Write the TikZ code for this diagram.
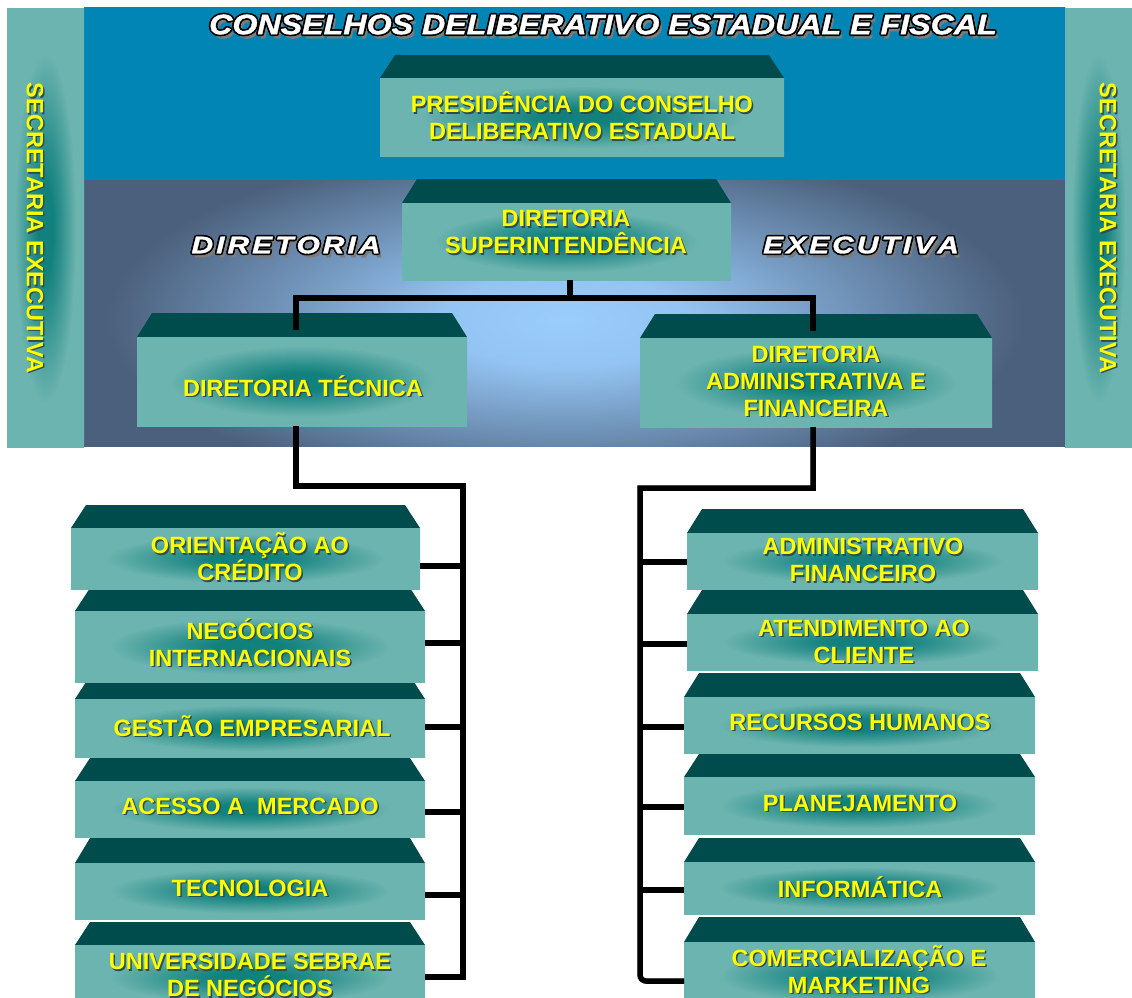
\documentclass[tikz,border=0pt]{standalone}
\usepackage{fontspec}
\setmainfont{Liberation Sans}
\newfontfamily\headfont{Liberation Sans}[FakeStretch=1.15, FakeBold=1.3]
\newfontfamily\wideheadfont{Liberation Sans}[FakeStretch=1.25, FakeBold=1.3]
\usetikzlibrary{calc}

% palette
\definecolor{sea}{HTML}{0095CA}
\definecolor{seaedge}{HTML}{0085B5}
\definecolor{skyglow}{HTML}{9ACCFC}
\definecolor{slate}{HTML}{4B607C}
\definecolor{lidteal}{HTML}{004C4C}
\definecolor{faceedge}{HTML}{6CB4AF}
\definecolor{facecore}{HTML}{12817E}
\definecolor{labelyellow}{HTML}{FFFF00}
\definecolor{labelshade}{HTML}{2E4E4E}
\definecolor{wireshade}{HTML}{6A6A6A}
\definecolor{titleshade}{HTML}{7C7C7C}

% glow used on the front faces and the side panels
\pgfdeclareradialshading{faceglow}{\pgfpoint{0bp}{0bp}}{%
  color(0bp)=(facecore); color(5bp)=(facecore); color(10bp)=(facecore!70!faceedge);
  color(20bp)=(faceedge); color(50bp)=(faceedge)}
% light spot behind the executive board
\pgfdeclareradialshading{boardglow}{\pgfpoint{0bp}{0bp}}{%
  color(0bp)=(skyglow); color(6bp)=(skyglow!92!slate); color(22bp)=(slate); color(50bp)=(slate)}

% letters set apart by a fixed kern
\makeatletter
\newcommand\spreadword[2]{\@tfor\spreadletter:=#2\do{\spreadletter\kern#1}\unkern}
\makeatother

% a unit: dark lid on top of a glowing front face
% #1 name, #2 left, #3 right, #4 lid top, #5 face top, #6 face bottom
\newcommand\tealbox[6]{%
  \fill[lid] (#2,#5) -- (#2+15,#4) -- (#3-15,#4) -- (#3,#5) -- cycle;
  \node[face, minimum width={(#3)-(#2)}, minimum height={(#6)-(#5)}]
    (#1) at ({((#2)+(#3))/2},{((#5)+(#6))/2}) {};}

% yellow caption with a dark drop shadow
\newcommand\yellowlabel[5][]{%
  \node[boxtextshadow,#1] (#2-shade) at ({#3+1.5},{#4+1.5}) {#5};
  \node[boxtext,#1] (#2) at (#3,#4) {#5};}

% white lettering with a black rim and a grey drop shadow
% #1 name, #2 x, #3 y, #4 font, #5 text
\newcommand\rimmed[5]{%
  \node[heading,font=#4,text=titleshade] (#1-drop) at ({#2+3},{#3+4}) {#5};
  \foreach \dx/\dy [count=\k] in {-1.7/0,1.7/0,0/1.7,0/-1.7,-1.2/1.2,1.2/1.2,-1.2/-1.2,1.2/-1.2}
    {\node[heading,font=#4,text=black] (#1-rim\k) at ({#2+\dx},{#3+\dy}) {#5};}
  \node[heading,font=#4,text=white] (#1) at (#2,#3) {#5};}

% all connectors, drawn once as shadow and once as ink
\newcommand\wiring[1]{%
  \draw[#1] (hub |- sup.south) -- (hub);
  \draw[#1] (tecjoin) -- (tecdrop) -- (admdrop) -- (admjoin);
  \draw[#1] (tecdrop |- tec.south) -- (lbelbow) -- (lbtop) -- (lbend);
  \foreach \b/\c in {ori/lb1, neg/lb2, ges/lb3, acc/lb4, tecn/lb5, uni/lb6}
    {\draw[#1] (\c -| \b.east) -- (\c);}
  \draw[#1] (admdrop |- adm.south) -- (rbelbow) -- (rbtop) [rounded corners=6pt] -- (rbend) -- (rbend -| com.west);
  \foreach \b/\c in {admf/rb1, ate/rb2, rh/rb3, plan/rb4, inf/rb5}
    {\draw[#1] (\c) -- (\c -| \b.west);}
}

\begin{document}
\begin{tikzpicture}[x=1pt, y=-1pt,
  lid/.style={fill=lidteal},
  face/.style={shade, shading=faceglow, inner sep=0pt, outer sep=0pt},
  boxtext/.style={text=labelyellow, font=\fontsize{23.5}{27}\selectfont\bfseries,
                  align=center, inner sep=0pt},
  boxtextshadow/.style={boxtext, text=labelshade},
  wireink/.style={draw=black, line width=5.5pt},
  wireshadow/.style={draw=wireshade, line width=5pt, xshift=-3pt, yshift=3pt},
  heading/.style={inner sep=0pt}]

\useasboundingbox (0,0) rectangle (1132,998);
\fill[white] (0,0) rectangle (1132,998);

% council band and executive board band
\shade[left color=seaedge, middle color=sea, right color=seaedge] (84,8) rectangle (1065,180);
\begin{scope}
  \clip (84,180) rectangle (1065,446);
  \shade[shading=boardglow] (45,120) rectangle (1085,520);
\end{scope}

% executive secretariat panels
\node[face, minimum width=77pt, minimum height=438pt] (secl) at (45.5,228) {};
\node[face, minimum width=67pt, minimum height=438pt] (secr) at (1098.5,228) {};

% councils and directors
\tealbox{pres}{380}{784}{55}{78}{156}
\tealbox{sup}{402}{731}{179}{203}{280}
\tealbox{tec}{137}{467}{313}{337}{426}
\tealbox{adm}{640}{992}{314}{338}{427}

% technical units (lower ones first, upper faces overlap their lids)
\tealbox{uni}{75}{425}{922}{945}{1010}
\tealbox{tecn}{75}{425}{838}{863}{919}
\tealbox{acc}{75}{425}{758}{781}{837}
\tealbox{ges}{75}{425}{676}{699}{757}
\tealbox{neg}{75}{425}{588}{611}{682}
\tealbox{ori}{71}{420}{505}{528}{589}

% administrative units
\tealbox{com}{684}{1035}{917}{942}{1010}
\tealbox{inf}{684}{1035}{838}{862}{914}
\tealbox{plan}{684}{1035}{754}{777}{834}
\tealbox{rh}{684}{1035}{673}{697}{753}
\tealbox{ate}{687}{1038}{590}{614}{670}
\tealbox{admf}{687}{1038}{509}{533}{589}

% connector bends
\coordinate (hub) at (570,298);
\coordinate (tecdrop) at (296,298);
\coordinate (admdrop) at (813,298);
\coordinate (tecjoin) at (296,330);
\coordinate (admjoin) at (813,331);
\coordinate (lbelbow) at (296,486);
\coordinate (lbtop) at (463,486);
\coordinate (lbend) at (463,979);
\coordinate (lb1) at (466,566);
\coordinate (lb2) at (466,643);
\coordinate (lb3) at (466,727);
\coordinate (lb4) at (466,812);
\coordinate (lb5) at (466,895);
\coordinate (lb6) at (466,977);
\coordinate (rbelbow) at (813,488);
\coordinate (rbtop) at (640,488);
\coordinate (rbend) at (640,981);
\coordinate (rb1) at (638,562);
\coordinate (rb2) at (638,644);
\coordinate (rb3) at (638,727);
\coordinate (rb4) at (638,807);
\coordinate (rb5) at (638,890);

\wiring{wireshadow}
\wiring{wireink}

% captions
\yellowlabel[rotate=-90]{secl-text}{35}{228}{SECRETARIA EXECUTIVA}
\yellowlabel[rotate=-90]{secr-text}{1108}{228}{SECRETARIA EXECUTIVA}
\yellowlabel{pres-text}{582}{116}{PRESIDÊNCIA DO CONSELHO\\DELIBERATIVO ESTADUAL}
\yellowlabel{sup-text}{566}{232}{DIRETORIA\\SUPERINTENDÊNCIA}
\yellowlabel{tec-text}{303}{386}{DIRETORIA TÉCNICA}
\yellowlabel{adm-text}{816}{381}{DIRETORIA\\ADMINISTRATIVA E\\FINANCEIRA}

\yellowlabel{ori-text}{250}{557}{ORIENTAÇÃO AO\\CRÉDITO}
\yellowlabel{neg-text}{250}{642.5}{NEGÓCIOS\\INTERNACIONAIS}
\yellowlabel{ges-text}{252}{726}{GESTÃO EMPRESARIAL}
\yellowlabel{acc-text}{250}{806}{ACESSO A\ \ MERCADO}
\yellowlabel{tecn-text}{250}{888}{TECNOLOGIA}
\yellowlabel{uni-text}{250}{975}{UNIVERSIDADE SEBRAE\\DE NEGÓCIOS}

\yellowlabel{admf-text}{863}{560}{ADMINISTRATIVO\\FINANCEIRO}
\yellowlabel{ate-text}{864}{641.5}{ATENDIMENTO AO\\CLIENTE}
\yellowlabel{rh-text}{860}{722}{RECURSOS HUMANOS}
\yellowlabel{plan-text}{860}{803}{PLANEJAMENTO}
\yellowlabel{inf-text}{860}{887}{INFORMÁTICA}
\yellowlabel{com-text}{859}{969.5}{COMERCIALIZAÇÃO E\\MARKETING}

% headings in white rimmed lettering
\rimmed{council}{603}{24.5}{\headfont\bfseries\itshape\fontsize{28}{30}\selectfont}
  {CONSELHOS DELIBERATIVO ESTADUAL E FISCAL}
\rimmed{boardleft}{286}{245}{\wideheadfont\bfseries\itshape\fontsize{24}{26}\selectfont}
  {\spreadword{3pt}{DIRETORIA}}
\rimmed{boardright}{861}{245}{\wideheadfont\bfseries\itshape\fontsize{24}{26}\selectfont}
  {\spreadword{3pt}{EXECUTIVA}}
\end{tikzpicture}
\end{document}
